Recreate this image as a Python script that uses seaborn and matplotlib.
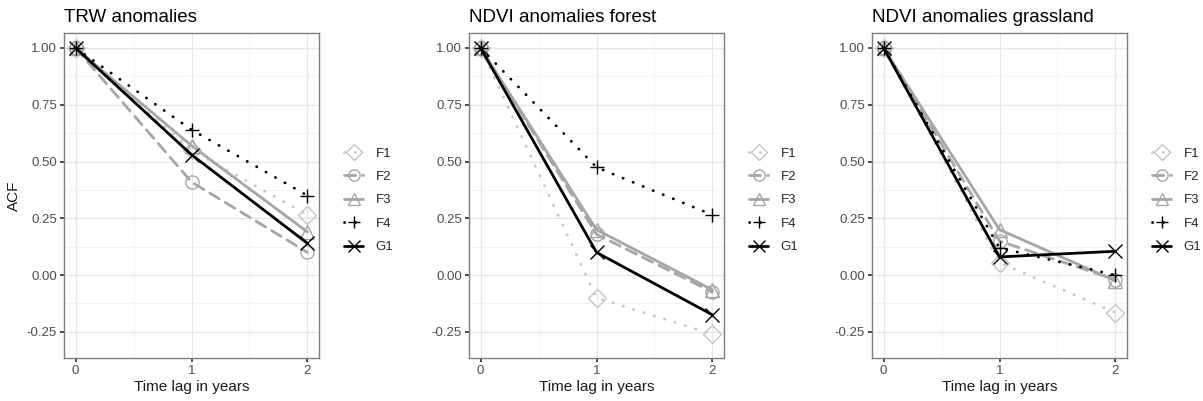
import matplotlib
matplotlib.use("Agg")
import matplotlib.pyplot as plt
import seaborn as sns
import pandas as pd
from matplotlib.ticker import MultipleLocator

lags = [0, 1, 2]
series_names = ["F1", "F2", "F3", "F4", "G1"]
titles = ["TRW anomalies", "NDVI anomalies forest", "NDVI anomalies grassland"]
yticks = [-0.25, 0.00, 0.25, 0.50, 0.75, 1.00]
ytick_labels = ["-0.25", "0.00", "0.25", "0.50", "0.75", "1.00"]

trw_F1 = [1.0, 0.55, 0.265]
trw_F2 = [1.0, 0.41, 0.10]
trw_F3 = [1.0, 0.57, 0.19]
trw_F4 = [1.0, 0.64, 0.35]
trw_G1 = [1.0, 0.53, 0.14]

forest_F1 = [1.0, -0.10, -0.26]
forest_F2 = [1.0, 0.18, -0.075]
forest_F3 = [1.0, 0.20, -0.065]
forest_F4 = [1.0, 0.475, 0.265]
forest_G1 = [1.0, 0.10, -0.175]

grass_F1 = [1.0, 0.055, -0.165]
grass_F2 = [1.0, 0.15, -0.02]
grass_F3 = [1.0, 0.20, -0.025]
grass_F4 = [1.0, 0.12, 0.0]
grass_G1 = [1.0, 0.08, 0.105]

panels = [
    [trw_F1, trw_F2, trw_F3, trw_F4, trw_G1],
    [forest_F1, forest_F2, forest_F3, forest_F4, forest_G1],
    [grass_F1, grass_F2, grass_F3, grass_F4, grass_G1],
]

palette = {"F1": "#c4c4c4", "F2": "#a6a6a6", "F3": "#a6a6a6", "F4": "#000000", "G1": "#000000"}
markers = {"F1": "D", "F2": "o", "F3": "^", "F4": "+", "G1": "x"}
linestyles = {"F1": (0, (0.1, 3.8)), "F2": (0, (4, 2.5)), "F3": "-", "F4": (0, (0.1, 3.8)), "G1": "-"}

sns.set_theme(style="whitegrid")
plt.rcParams["font.family"] = ["Liberation Sans", "DejaVu Sans"]

fig = plt.figure(figsize=(12.03, 4.01), dpi=100)
lefts = [64, 469, 872]
W, H = 1203, 401

for i, (vals, title) in enumerate(zip(panels, titles)):
    ax = fig.add_axes([lefts[i] / W, 43 / H, 255 / W, 325 / H])
    for name, v in zip(series_names, vals):
        df = pd.DataFrame({"lag": lags, "acf": v})
        c = palette[name]
        sns.lineplot(data=df, x="lag", y="acf", ax=ax, color=c,
                     linestyle=linestyles[name], linewidth=2,
                     dash_capstyle="round",
                     marker=markers[name], markersize=9.5,
                     markerfacecolor="none", markeredgecolor=c,
                     markeredgewidth=1.0, label=name)
    ax.set_xlim(-0.1, 2.1)
    ax.set_ylim(-0.365, 1.066)
    ax.set_xticks(lags)
    ax.set_yticks(yticks)
    ax.set_yticklabels(ytick_labels)
    ax.xaxis.set_minor_locator(MultipleLocator(0.5))
    ax.yaxis.set_minor_locator(MultipleLocator(0.125))
    ax.grid(True, which="major", color="#e6e6e6", linewidth=0.9)
    ax.grid(True, which="minor", color="#f2f2f2", linewidth=0.6)
    ax.set_axisbelow(True)
    for s in ax.spines.values():
        s.set_color("#7f7f7f")
        s.set_linewidth(1.0)
    ax.tick_params(axis="both", which="major", labelsize=9.5, labelcolor="#4d4d4d",
                   length=3, color="#333333", direction="out", left=True, bottom=True, pad=2)
    ax.tick_params(which="minor", length=0)
    ax.set_xlabel("Time lag in years", fontsize=11, color="#1a1a1a", labelpad=2)
    ax.set_ylabel("ACF" if i == 0 else "", fontsize=11, color="#1a1a1a")
    ax.set_title(title, loc="left", fontsize=13.5, color="black", pad=8)
    leg = ax.legend(loc="center left", bbox_to_anchor=(1.098, 0.485), frameon=False,
                    fontsize=9.5, handlelength=1.45, labelspacing=0.85,
                    borderaxespad=0, borderpad=0, handletextpad=0.95,
                    markerscale=0.85)

fig.savefig("out.png", dpi=100)
